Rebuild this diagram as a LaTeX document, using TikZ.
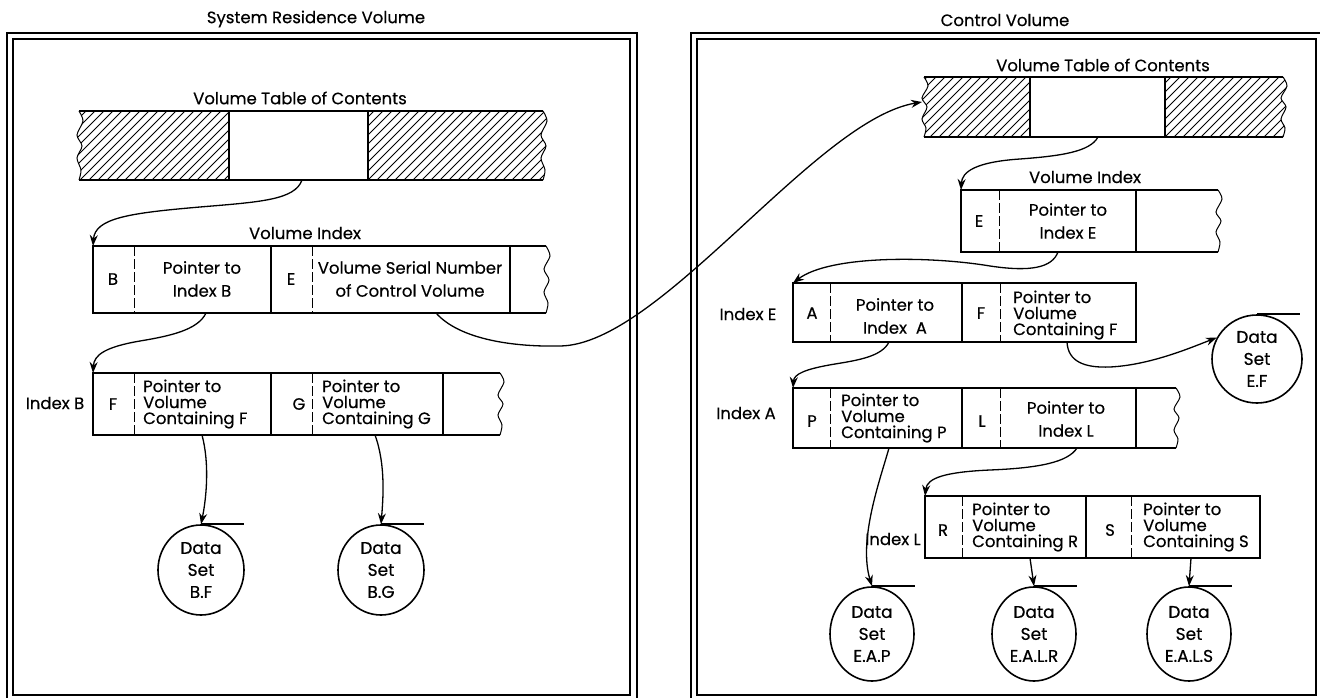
\documentclass[tikz,border=0pt]{standalone}
\usepackage{fontspec}
\setmainfont{Poppins}[FakeBold=0.4]
\usetikzlibrary{arrows.meta,shapes.geometric}
\tikzset{
 boxln/.style={line width=2.1pt},
 keyln/.style={line width=1pt, dash pattern=on 10pt off 3pt},
 tornln/.style={line width=1pt},
 frameln/.style={line width=1.7pt},
 hatchln/.style={line width=0.8pt},
 conn/.style={line width=1.3pt, -{Stealth[length=11pt,width=8pt]}},
 lbl/.style={inner sep=0pt, font=\fontsize{16.5}{23}\selectfont, align=center},
 ptr/.style={inner sep=0pt, font=\fontsize{16.5}{16}\selectfont, align=left, anchor=west},
 dset/.style={draw, ellipse, line width=1.6pt, minimum width=86pt, minimum height=90pt, inner sep=0pt, font=\fontsize{17}{22}\selectfont, align=center},
 topln/.style={line width=1.6pt},
}
\begin{document}
\begin{tikzpicture}[x=1pt,y=-1pt]
\useasboundingbox (0,0) rectangle (1320,698);
% frames
\draw[frameln] (7,33) rectangle (637,699);
\draw[frameln] (13,39) rectangle (630,695);
\draw[frameln] (691,33) rectangle (1321,699);
\draw[frameln] (697,39) rectangle (1316,695);
\node[lbl] (t1) at (316,19) {System Residence Volume};
\node[lbl] (t2) at (1005,20) {Control Volume};

% ---------- left VTOC
\node[lbl] (lvtocl) at (300,98) {Volume Table of Contents};
\begin{scope}
\clip (229,111) -- (79,111) -- plot[smooth] coordinates {(79,111) (83,121) (77,135) (82,146) (77,158) (81,170) (79,180)} -- (229,180) -- cycle;
\foreach \hx in {8,17,...,230} \draw[hatchln] (\hx,180) -- ({\hx+69},111);
\end{scope}
\begin{scope}
\clip (368,111) -- (543,111) -- plot[smooth] coordinates {(543,111) (547,121) (541,135) (546,146) (541,158) (545,170) (543,180)} -- (368,180) -- cycle;
\foreach \hx in {296,305,...,550} \draw[hatchln] (\hx,180) -- ({\hx+69},111);
\end{scope}
\draw[boxln] (79,111) -- (543,111) (79,180) -- (543,180) (229,111) -- (229,180) (368,111) -- (368,180);
\draw[tornln] plot[smooth] coordinates {(79,111) (83,121) (77,135) (82,146) (77,158) (81,170) (79,180)};
\draw[tornln] plot[smooth] coordinates {(543,111) (547,121) (541,135) (546,146) (541,158) (545,170) (543,180)};
\coordinate (lvtoc-out) at (302,180);

% ---------- left volume index
\node[lbl] (lvil) at (305,233) {Volume Index};
\draw[boxln] (546,246) -- (93,246) -- (93,313) -- (546,313);
\draw[boxln] (271,246) -- (271,313) (510,246) -- (510,313);
\draw[keyln] (134,246) -- (134,313) (312,246) -- (312,313);
\draw[tornln] plot[smooth] coordinates {(546,246) (550,256) (544,269) (549,280) (544,292) (548,303) (546,313)};
\node[lbl] (lviB) at (113,279) {B};
\node[lbl] (lviBp) at (202,279) {Pointer to\\Index B};
\node[lbl] (lviE) at (291,279) {E};
\node[lbl] (lviEp) at (410,279) {Volume Serial Number\\of Control Volume};
\coordinate (lvi-in) at (93,246);
\coordinate (lvi-outB) at (206,313);
\coordinate (lvi-outE) at (436,313);

% ---------- index B
\node[lbl] (libl) at (55,403) {Index B};
\draw[boxln] (500,373) -- (93,373) -- (93,435) -- (500,435);
\draw[boxln] (271,373) -- (271,435) (443,373) -- (443,435);
\draw[keyln] (134,373) -- (134,435) (312,373) -- (312,435);
\draw[tornln] plot[smooth] coordinates {(500,373) (504,382) (498,395) (503,404) (498,415) (502,425) (500,435)};
\node[lbl] (libF) at (113,404) {F};
\node[ptr] (libFp) at (143,404) {Pointer to\\Volume\\Containing F};
\node[lbl] (libG) at (299,404) {G};
\node[ptr] (libGp) at (322,404) {Pointer to\\Volume\\Containing G};
\coordinate (lib-in) at (93,373);
\coordinate (lib-outF) at (202,435);
\coordinate (lib-outG) at (375,435);

\node[dset] (bf) at (201,570) {Data\\Set\\B.F};
\node[dset] (bg) at (381,570) {Data\\Set\\B.G};
\draw[topln] (bf.north) -- ++(43,0);
\draw[topln] (bg.north) -- ++(43,0);

% ---------- right VTOC
\node[lbl] (rvtocl) at (1103,65) {Volume Table of Contents};
\begin{scope}
\clip (1030,77) -- (924,77) -- plot[smooth] coordinates {(924,77) (928,86) (922,98) (927,107) (922,119) (926,128) (924,137)} -- (1030,137) -- cycle;
\foreach \hx in {858,867,...,1032} \draw[hatchln] (\hx,137) -- ({\hx+60},77);
\end{scope}
\begin{scope}
\clip (1165,77) -- (1283,77) -- plot[smooth] coordinates {(1283,77) (1287,86) (1281,98) (1286,107) (1281,119) (1285,128) (1283,137)} -- (1165,137) -- cycle;
\foreach \hx in {1102,1111,...,1290} \draw[hatchln] (\hx,137) -- ({\hx+60},77);
\end{scope}
\draw[boxln] (924,77) -- (1283,77) (924,137) -- (1283,137) (1030,77) -- (1030,137) (1165,77) -- (1165,137);
\draw[tornln] plot[smooth] coordinates {(924,77) (928,86) (922,98) (927,107) (922,119) (926,128) (924,137)};
\draw[tornln] plot[smooth] coordinates {(1283,77) (1287,86) (1281,98) (1286,107) (1281,119) (1285,128) (1283,137)};
\coordinate (rvtoc-in) at (922,102);
\coordinate (rvtoc-out) at (1098,137);

% ---------- right volume index
\node[lbl] (rvil) at (1085,177) {Volume Index};
\draw[boxln] (1218,190) -- (961,190) -- (961,252) -- (1218,252);
\draw[boxln] (1136,190) -- (1136,252);
\draw[keyln] (999,190) -- (999,252);
\draw[tornln] plot[smooth] coordinates {(1218,190) (1222,199) (1216,212) (1221,221) (1216,232) (1220,242) (1218,252)};
\node[lbl] (rviE) at (979,221) {E};
\node[lbl] (rviEp) at (1068,221) {Pointer to\\Index E};
\coordinate (rvi-in) at (961,190);
\coordinate (rvi-out) at (1058,252);

% ---------- index E
\node[lbl] (iEl) at (748,314) {Index E};
\draw[boxln] (793,283) rectangle (1136,342);
\draw[boxln] (962,283) -- (962,342);
\draw[keyln] (830,283) -- (830,342) (1000,283) -- (1000,342);
\node[lbl] (iEA) at (812,313) {A};
\node[lbl] (iEAp) at (895,316) {Pointer to\\Index\ \ A};
\node[lbl] (iEF) at (981,313) {F};
\node[ptr] (iEFp) at (1013,315) {Pointer to\\Volume\\Containing F};
\coordinate (iE-in) at (793,283);
\coordinate (iE-outA) at (889,342);
\coordinate (iE-outF) at (1067,342);

\node[dset, minimum width=90pt, minimum height=88pt] (ef) at (1257,359) {Data\\Set\\E.F};
\draw[topln] (ef.north) -- ++(43,0);

% ---------- index A
\node[lbl] (iAl) at (746,413) {Index A};
\draw[boxln] (1176,388) -- (793,388) -- (793,448) -- (1176,448);
\draw[boxln] (962,388) -- (962,448) (1136,388) -- (1136,448);
\draw[keyln] (830,388) -- (830,448) (1000,388) -- (1000,448);
\draw[tornln] plot[smooth] coordinates {(1176,388) (1180,397) (1174,409) (1179,418) (1174,430) (1178,439) (1176,448)};
\node[lbl] (iAP) at (812,421) {P};
\node[ptr] (iAPp) at (841,418) {Pointer to\\Volume\\Containing P};
\node[lbl] (iAL) at (982,421) {L};
\node[lbl] (iALp) at (1066,419) {Pointer to\\Index L};
\coordinate (iA-in) at (793,388);
\coordinate (iA-outP) at (889,448);
\coordinate (iA-outL) at (1077,448);

% ---------- index L
\node[lbl] (iLl) at (893,539) {Index L};
\draw[boxln] (925,496) rectangle (1260,558);
\draw[boxln] (1086,496) -- (1086,558);
\draw[keyln] (962,496) -- (962,558) (1131,496) -- (1131,558);
\node[lbl] (iLR) at (943,530) {R};
\node[ptr] (iLRp) at (972,527) {Pointer to\\Volume\\Containing R};
\node[lbl] (iLS) at (1110,530) {S};
\node[ptr] (iLSp) at (1143,527) {Pointer to\\Volume\\Containing S};
\coordinate (iL-in) at (925,496);
\coordinate (iL-outR) at (1030,558);
\coordinate (iL-outS) at (1191,558);

\node[dset, minimum width=84pt, minimum height=94pt] (eap) at (872,634) {Data\\Set\\E.A.P};
\node[dset, minimum width=84pt, minimum height=94pt] (ealr) at (1034,634) {Data\\Set\\E.A.L.R};
\node[dset, minimum width=84pt, minimum height=94pt] (eals) at (1189,634) {Data\\Set\\E.A.L.S};
\draw[topln] (eap.north) -- ++(43,0);
\draw[topln] (ealr.north) -- ++(43,0);
\draw[topln] (eals.north) -- ++(43,0);

% ---------- connectors
\draw[conn] (lvtoc-out) .. controls (295,200) and (260,202) .. (200,207) .. controls (130,213) and (95,218) .. (lvi-in);
\draw[conn] (lvi-outB) .. controls (198,330) and (170,336) .. (140,341) .. controls (105,347) and (94,355) .. (lib-in);
\draw[conn] (lvi-outE) .. controls (460,340) and (515,347) .. (560,346) .. controls (660,345) and (815,120) .. (rvtoc-in);
\draw[conn] (lib-outF) .. controls (210,465) and (206,500) .. (bf.north);
\draw[conn] (lib-outG) .. controls (386,465) and (383,500) .. (bg.north);
\draw[conn] (rvtoc-out) .. controls (1090,152) and (1060,156) .. (1020,159) .. controls (975,162) and (962,172) .. (rvi-in);
\draw[conn] (rvi-out) .. controls (1052,268) and (1030,272) .. (990,266) .. controls (930,256) and (830,255) .. (iE-in);
\draw[conn] (iE-outA) .. controls (882,356) and (860,360) .. (835,364) .. controls (805,369) and (794,374) .. (iA-in);
\draw[conn] (iE-outF) .. controls (1068,362) and (1085,368) .. (1110,367) .. controls (1150,365) and (1190,348) .. (ef.152);
\draw[conn] (iA-outP) .. controls (880,480) and (858,540) .. (eap.north);
\draw[conn] (iA-outL) .. controls (1068,462) and (1040,468) .. (990,470) .. controls (945,472) and (927,478) .. (iL-in);
\draw[conn] (iL-outR) -- (ealr.north);
\draw[conn] (iL-outS) -- (eals.north);
\end{tikzpicture}
\end{document}
